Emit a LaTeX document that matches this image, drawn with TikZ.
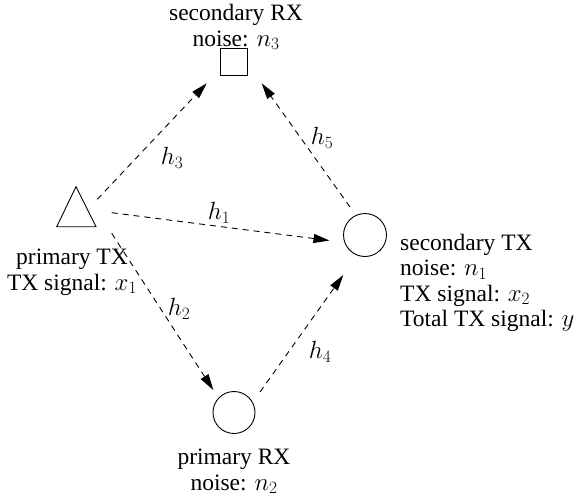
\documentclass[tikz,border=0pt]{standalone}
\usepackage[no-math]{fontspec}
\setmainfont{Liberation Serif}
\usetikzlibrary{arrows.meta}
\begin{document}
\begin{tikzpicture}[x=1pt,y=-1pt, font=\fontsize{23.5}{25.5}\selectfont,
  conn/.style={draw, line width=0.9pt, dash pattern=on 6pt off 5pt, -{Triangle[length=16pt,width=9pt]}},
  circ/.style={circle, draw, line width=0.9pt, minimum size=43pt, inner sep=0pt},
  sqbox/.style={rectangle, draw, line width=0.9pt, minimum size=27pt, inner sep=0pt},
  lbl/.style={inner sep=0pt},
  hl/.style={inner sep=0pt, font=\fontsize{25}{27}\selectfont}]
\useasboundingbox (0,0) rectangle (582,501);

% nodes
\node[sqbox] (srx) at (234,62) {};
\node[circ] (stx) at (365,235) {};
\node[circ, minimum size=42pt] (prx) at (234,412.5) {};
\node[inner sep=0pt, minimum size=1pt] (ptx) at (76,213) {};
\draw[line width=0.9pt, line join=miter] ([shift={(0,-26.3)}]ptx.center) -- ([shift={(-19.3,13.7)}]ptx.center) -- ([shift={(20,13.7)}]ptx.center) -- cycle;

% connectors
\draw[conn] ([shift={(21.3,-13.7)}]ptx.center) -- ([shift={(-27.3,21.3)}]srx.center);
\draw[conn] ([shift={(35.7,-0.3)}]ptx.center) -- ([shift={(-35.5,5.5)}]stx.center);
\draw[conn] ([shift={(35.7,20.3)}]ptx.center) -- ([shift={(-20.7,-22.5)}]prx.center);
\draw[conn] ([shift={(26,-20.5)}]prx.center) -- ([shift={(-21.7,40)}]stx.center);
\draw[conn] ([shift={(-15,-28)}]stx.center) -- ([shift={(27.7,21.3)}]srx.center);

% edge labels
\node[hl] (l3) at (172,158) {$h_3$};
\node[hl] (l1) at (219,213) {$h_1$};
\node[hl] (l2) at (179,309) {$h_2$};
\node[hl] (l4) at (320,352) {$h_4$};
\node[hl] (l5) at (322,138) {$h_5$};

% text labels (base anchor = last line baseline)
\node[lbl, align=left, anchor=base west] (stxl) at (400,326.5) {secondary TX\\noise: $n_1$\\TX signal: $x_2$\\Total TX signal: $y$};
\node[lbl, align=center, anchor=base] (ptxl) at (72,290) {primary TX\\TX signal: $x_1$};
\node[lbl, align=center, anchor=base] (prxl) at (234,490) {primary RX\\noise: $n_2$};
\node[lbl, align=center, anchor=base] (srxl) at (236,46) {secondary RX\\noise: $n_3$};
\end{tikzpicture}
\end{document}
